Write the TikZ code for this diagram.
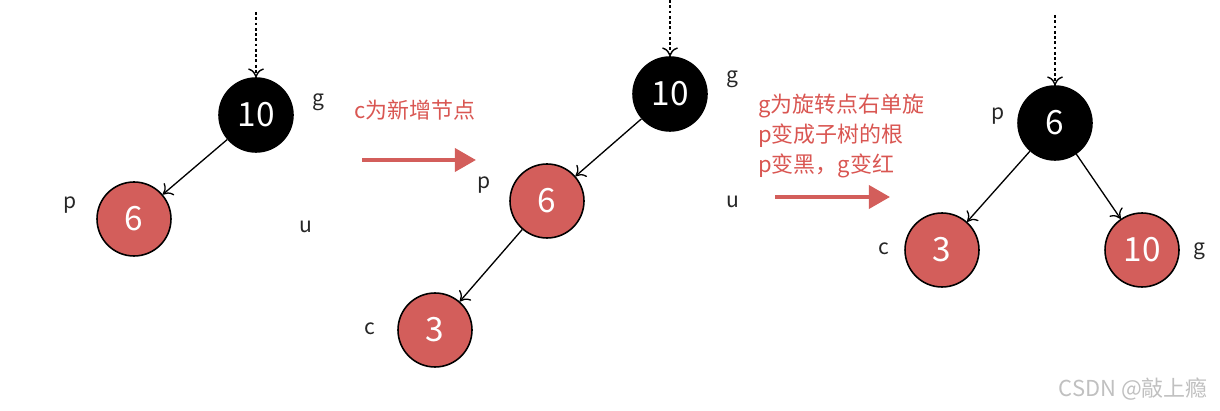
\documentclass[tikz,border=0pt]{standalone}
\usepackage{fontspec}
\setmainfont{Noto Sans CJK SC}
\usetikzlibrary{arrows.meta}
\definecolor{nodered}{RGB}{211,94,91}
\definecolor{textred}{RGB}{217,86,82}
\definecolor{wm}{RGB}{192,192,192}
\tikzset{
  rb/.style={circle,draw=black,line width=0.9pt,fill=nodered,minimum size=1.48cm,inner sep=0pt,text=white,font=\fontsize{19}{19}\selectfont},
  bb/.style={circle,draw=black,line width=0.9pt,fill=black,minimum size=1.48cm,inner sep=0pt,text=white,font=\fontsize{19}{19}\selectfont},
  lbl/.style={font=\fontsize{12}{12}\selectfont,text=black!85},
  edge/.style={line width=0.75pt,-{To[length=5pt,width=9pt]}},
  dots/.style={line width=0.8pt,dash pattern=on 1.6pt off 1.4pt,-{To[length=5pt,width=9pt]}},
  bigarrow/.style={draw=nodered,line width=2.4pt,-{Triangle[length=12pt,width=13pt]}},
  note/.style={font=\fontsize{12.5}{17}\selectfont,text=textred,align=left,anchor=west},
}
\begin{document}
\begin{tikzpicture}[x=0.02cm,y=-0.02cm]
\useasboundingbox (0,0) rectangle (1220,411);
% tree 1
\node[bb] (g1) at (256,115) {10};
\node[rb] (p1) at (134,219) {6};
\coordinate (t1) at (256,12);
\draw[dots] (t1) -- (g1);
\draw[edge] (g1) -- (p1);
\node[lbl] (lg1) at (318,102) {g};
\node[lbl] (lp1) at (70,205) {p};
\node[lbl] (lu1) at (306,227) {u};
% arrow 1
\node[note] (n1) at (348,110) {c为新增节点};
\coordinate (a1s) at (362,160);
\coordinate (a1e) at (476,160);
\draw[bigarrow] (a1s) -- (a1e);
% tree 2
\node[bb] (g2) at (670,94) {10};
\node[rb] (p2) at (547,201) {6};
\node[rb] (c2) at (435,330) {3};
\coordinate (t2) at (670,0);
\draw[dots] (t2) -- (g2);
\draw[edge] (g2) -- (p2);
\draw[edge] (p2) -- (c2);
\node[lbl] (lg2) at (732,79) {g};
\node[lbl] (lp2) at (484,185) {p};
\node[lbl] (lu2) at (733,202) {u};
\node[lbl] (lc2) at (370,329) {c};
% arrow 2
\node[note] (n2) at (752,136) {g为旋转点右单旋\\p变成子树的根\\p变黑，g变红};
\coordinate (a2s) at (775,197);
\coordinate (a2e) at (890,197);
\draw[bigarrow] (a2s) -- (a2e);
% tree 3
\node[bb] (p3) at (1055,123) {6};
\node[rb] (c3) at (942,250) {3};
\node[rb] (g3) at (1142,250) {10};
\coordinate (t3) at (1055,15);
\draw[dots] (t3) -- (p3);
\draw[edge] (p3) -- (c3);
\draw[edge] (p3) -- (g3);
\node[lbl] (lp3) at (998,116) {p};
\node[lbl] (lc3) at (884,249) {c};
\node[lbl] (lg3) at (1199,251) {g};
% watermark
\node[font=\fontsize{12.5}{12.5}\selectfont,text=wm,anchor=east] (wmk) at (1214,389) {CSDN @敲上瘾};
\end{tikzpicture}
\end{document}
